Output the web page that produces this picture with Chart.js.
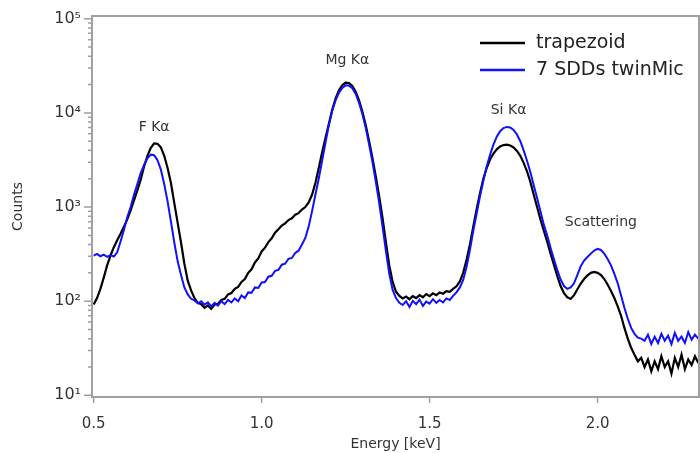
<!DOCTYPE html>
<html>
<head>
<meta charset="utf-8">
<script src="https://cdn.jsdelivr.net/npm/chart.js@4.4.0/dist/chart.umd.min.js"></script>
<style>
  html, body { margin: 0; padding: 0; background: #fff; }
  #wrap { width: 700px; height: 453px; }
</style>
</head>
<body>
<div id="wrap"><canvas id="spectrum"></canvas></div>
<script>
// Energy channels [keV]
const energy = [
  0.50, 0.51, 0.52, 0.53, 0.54, 0.55, 0.56, 0.57, 0.58, 0.59,
  0.60, 0.61, 0.62, 0.63, 0.64, 0.65, 0.66, 0.67, 0.68, 0.69,
  0.70, 0.71, 0.72, 0.73, 0.74, 0.75, 0.76, 0.77, 0.78, 0.79,
  0.80, 0.81, 0.82, 0.83, 0.84, 0.85, 0.86, 0.87, 0.88, 0.89,
  0.90, 0.91, 0.92, 0.93, 0.94, 0.95, 0.96, 0.97, 0.98, 0.99,
  1.00, 1.01, 1.02, 1.03, 1.04, 1.05, 1.06, 1.07, 1.08, 1.09,
  1.10, 1.11, 1.12, 1.13, 1.14, 1.15, 1.16, 1.17, 1.18, 1.19,
  1.20, 1.21, 1.22, 1.23, 1.24, 1.25, 1.26, 1.27, 1.28, 1.29,
  1.30, 1.31, 1.32, 1.33, 1.34, 1.35, 1.36, 1.37, 1.38, 1.39,
  1.40, 1.41, 1.42, 1.43, 1.44, 1.45, 1.46, 1.47, 1.48, 1.49,
  1.50, 1.51, 1.52, 1.53, 1.54, 1.55, 1.56, 1.57, 1.58, 1.59,
  1.60, 1.61, 1.62, 1.63, 1.64, 1.65, 1.66, 1.67, 1.68, 1.69,
  1.70, 1.71, 1.72, 1.73, 1.74, 1.75, 1.76, 1.77, 1.78, 1.79,
  1.80, 1.81, 1.82, 1.83, 1.84, 1.85, 1.86, 1.87, 1.88, 1.89,
  1.90, 1.91, 1.92, 1.93, 1.94, 1.95, 1.96, 1.97, 1.98, 1.99,
  2.00, 2.01, 2.02, 2.03, 2.04, 2.05, 2.06, 2.07, 2.08, 2.09,
  2.10, 2.11, 2.12, 2.13, 2.14, 2.15, 2.16, 2.17, 2.18, 2.19,
  2.20, 2.21, 2.22, 2.23, 2.24, 2.25, 2.26, 2.27, 2.28, 2.29,
  2.30
];

// Counts, trapezoid
const trapezoid = [
  92, 108, 135, 178, 240, 305, 375, 445, 520, 620,
  740, 920, 1180, 1500, 1950, 2700, 3500, 4250, 4750, 4700,
  4300, 3500, 2600, 1800, 1100, 680, 420, 250, 165, 130,
  108, 96, 93, 85, 90, 83, 92, 94, 103, 106,
  118, 122, 135, 142, 160, 172, 200, 218, 258, 285,
  338, 370, 424, 465, 535, 580, 636, 672, 728, 760,
  828, 862, 940, 1000, 1120, 1350, 1800, 2600, 3800, 5400,
  7600, 10800, 14200, 17400, 19700, 21000, 20800, 19300, 16800, 13600,
  10300, 7400, 5000, 3300, 2100, 1300, 760, 420, 240, 160,
  126, 114, 107, 112, 105, 113, 108, 116, 110, 119,
  113, 121, 116, 124, 120, 128, 126, 135, 144, 162,
  200, 275, 400, 620, 950, 1400, 2000, 2600, 3200, 3700,
  4100, 4400, 4550, 4600, 4500, 4300, 3950, 3500, 2950, 2400,
  1850, 1350, 1000, 740, 560, 430, 320, 245, 185, 145,
  122, 110, 106, 116, 134, 154, 172, 188, 200, 205,
  200, 190, 172, 150, 128, 108, 88, 70, 52, 40,
  32, 27, 23, 25, 20, 24, 18, 23, 19, 26,
  20, 23, 17, 25, 20, 27, 19, 24, 21, 26,
  22
];

// Counts, 7 SDDs twinMic
const twinMic = [
  305, 318, 300, 312, 296, 308, 298, 330, 430, 570,
  780, 1000, 1350, 1750, 2300, 2800, 3300, 3600, 3550, 3150,
  2500, 1750, 1150, 700, 420, 265, 190, 140, 118, 106,
  102, 95, 100, 92, 97, 88, 96, 90, 100, 93,
  103, 97, 107, 100, 115, 108, 124, 123, 140, 138,
  158, 160, 182, 186, 210, 215, 244, 250, 282, 288,
  326, 344, 400, 470, 620, 900, 1350, 2000, 3100, 4800,
  7400, 10500, 13600, 16300, 18400, 19600, 19500, 18300, 15900, 12800,
  9700, 6900, 4600, 3000, 1850, 1100, 620, 340, 195, 132,
  108, 96, 91, 100, 87, 101, 93, 104, 89, 99,
  94, 105, 96, 103, 97, 107, 103, 114, 124, 140,
  168, 230, 350, 560, 850, 1300, 1900, 2700, 3600, 4600,
  5600, 6400, 6900, 7100, 7000, 6600, 5900, 5000, 4000, 3100,
  2350, 1700, 1250, 900, 650, 500, 370, 280, 215, 170,
  145, 135, 140, 155, 190, 235, 270, 295, 320, 345,
  360, 350, 320, 280, 240, 195, 155, 115, 85, 65,
  52, 45, 41, 40, 38, 44, 35, 42, 36, 45,
  38, 43, 35, 46, 38, 42, 36, 47, 39, 44,
  40
];

const seriesNames = ['trapezoid', '7 SDDs twinMic'];
const seriesColors = ['#000000', '#1010ff'];

// peak labels: text, energy [keV], counts where the label sits
const peakNames = ['F Kα', 'Mg Kα', 'Si Kα', 'Scattering'];
const peakEnergy = [0.68, 1.255, 1.735, 2.01];
const peakCounts = [7100, 36000, 10700, 690];

const energyTicks = [0.5, 1.0, 1.5, 2.0];
const countTicks = [10, 100, 1000, 10000, 100000];

const FONT = '"DejaVu Sans", sans-serif';
const SUP = { 1: '¹', 2: '²', 3: '³', 4: '⁴', 5: '⁵' };

// minor ticks 2..9 between the decades
const countTicksAll = [];
countTicks.forEach((d, i) => {
  countTicksAll.push(d);
  if (i < countTicks.length - 1) {
    for (let m = 2; m <= 9; m++) countTicksAll.push(d * m);
  }
});

// frame, tick marks, legend and peak labels
const decorations = {
  id: 'decorations',
  afterDraw(chart) {
    const { ctx, chartArea: a, scales: { x, y } } = chart;
    ctx.save();

    ctx.strokeStyle = '#a0a0a0';
    ctx.lineWidth = 1.5;
    ctx.beginPath();
    y.ticks.forEach(t => {
      const py = y.getPixelForValue(t.value);
      const len = countTicks.includes(t.value) ? 8 : 4;
      ctx.moveTo(a.left, py);
      ctx.lineTo(a.left - len, py);
    });
    x.ticks.forEach(t => {
      const px = x.getPixelForValue(t.value);
      ctx.moveTo(px, a.bottom);
      ctx.lineTo(px, a.bottom + 6);
    });
    ctx.stroke();

    ctx.lineWidth = 2;
    ctx.strokeRect(a.left, a.top, a.right - a.left, a.bottom - a.top);

    // legend
    ctx.font = '19px ' + FONT;
    ctx.textBaseline = 'middle';
    ctx.textAlign = 'left';
    chart.data.datasets.slice().sort((p, q) => seriesNames.indexOf(p.label) - seriesNames.indexOf(q.label))
      .forEach((ds, i) => {
        const ly = a.top + 27 + i * 27;
        ctx.strokeStyle = ds.borderColor;
        ctx.lineWidth = 2.5;
        ctx.beginPath();
        ctx.moveTo(a.right - 219, ly);
        ctx.lineTo(a.right - 174, ly);
        ctx.stroke();
        ctx.fillStyle = '#222';
        ctx.fillText(ds.label, a.right - 163, ly);
      });

    // peak labels
    ctx.font = '14px ' + FONT;
    ctx.textAlign = 'center';
    ctx.fillStyle = '#333';
    peakNames.forEach((name, i) => {
      ctx.fillText(name, x.getPixelForValue(peakEnergy[i]), y.getPixelForValue(peakCounts[i]));
    });

    ctx.restore();
  }
};

new Chart(document.getElementById('spectrum'), {
  type: 'line',
  data: {
    datasets: [
      {
        label: seriesNames[1],
        data: energy.map((e, i) => ({ x: e, y: twinMic[i] })),
        borderColor: seriesColors[1],
        borderWidth: 2,
        pointRadius: 0,
        order: 1
      },
      {
        label: seriesNames[0],
        data: energy.map((e, i) => ({ x: e, y: trapezoid[i] })),
        borderColor: seriesColors[0],
        borderWidth: 2.2,
        pointRadius: 0,
        order: 2
      }
    ]
  },
  options: {
    responsive: true,
    maintainAspectRatio: false,
    animation: false,
    layout: { padding: { top: 16, right: 1, left: 0, bottom: 0 } },
    plugins: {
      legend: { display: false },
      tooltip: { enabled: false }
    },
    scales: {
      x: {
        type: 'linear',
        min: 0.495,
        max: 2.302,
        grid: { display: false, drawTicks: true, tickLength: 6 },
        border: { display: false },
        afterBuildTicks: (scale) => { scale.ticks = energyTicks.map(v => ({ value: v })); },
        afterFit: (scale) => { scale.height = 56; },
        ticks: {
          autoSkip: false,
          maxRotation: 0,
          padding: 12,
          color: '#333',
          font: { family: FONT, size: 15 },
          callback: (v) => v.toFixed(1)
        },
        title: {
          display: true,
          text: 'Energy [keV]',
          color: '#333',
          font: { family: FONT, size: 14 },
          padding: 0
        }
      },
      y: {
        type: 'logarithmic',
        min: 9.6,
        max: 107000,
        grid: { display: false, drawTicks: true, tickLength: 8 },
        border: { display: false },
        afterBuildTicks: (scale) => { scale.ticks = countTicksAll.map(v => ({ value: v })); },
        afterFit: (scale) => { scale.width = 92; },
        ticks: {
          autoSkip: false,
          padding: 3,
          color: '#333',
          font: { family: FONT, size: 16 },
          callback: (v) => countTicks.includes(v) ? '10' + SUP[Math.round(Math.log10(v))] : ''
        },
        title: {
          display: true,
          text: 'Counts',
          color: '#333',
          font: { family: FONT, size: 14 },
          padding: { top: 10, bottom: 0 }
        }
      }
    }
  },
  plugins: [decorations]
});
</script>
</body>
</html>
